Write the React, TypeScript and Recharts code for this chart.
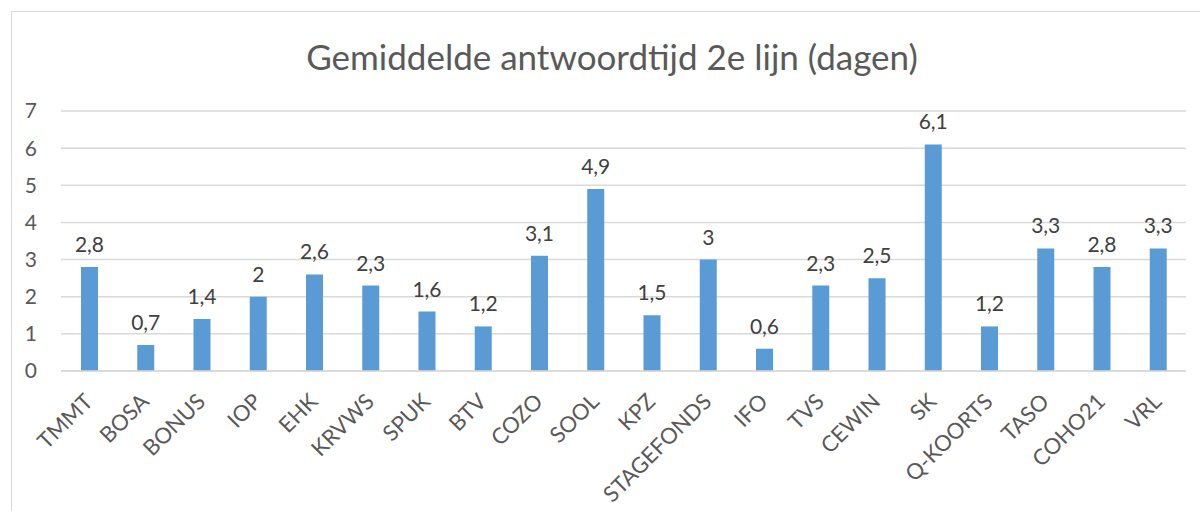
import { BarChart, Bar, XAxis, YAxis, CartesianGrid, LabelList } from 'recharts';

const categories = [
  'TMMT', 'BOSA', 'BONUS', 'IOP', 'EHK', 'KRVWS', 'SPUK', 'BTV', 'COZO', 'SOOL',
  'KPZ', 'STAGEFONDS', 'IFO', 'TVS', 'CEWIN', 'SK', 'Q-KOORTS', 'TASO', 'COHO21', 'VRL',
];
const days = [2.8, 0.7, 1.4, 2, 2.6, 2.3, 1.6, 1.2, 3.1, 4.9, 1.5, 3, 0.6, 2.3, 2.5, 6.1, 1.2, 3.3, 2.8, 3.3];
const yTicks = [0, 1, 2, 3, 4, 5, 6, 7];

const data = categories.map((name, i) => ({ name, value: days[i] }));

const FONT = 'Lato, "Open Sans", sans-serif';
const TEXT = '#595959';

// kommagetal zoals in de Nederlandse Excel-grafiek
const fmt = (v: number) => String(v).replace('.', ',');

function RotatedTick({ x, y, payload }: any) {
  return (
    <g transform={`translate(${x + 5},${y + 24})`}>
      <text
        textAnchor="end"
        transform="rotate(-45)"
        fill={TEXT}
        fontSize={22}
        fontFamily={FONT}
      >
        {payload.value}
      </text>
    </g>
  );
}

export default function App() {
  return (
    <div style={{ position: 'absolute', left: 0, top: 0, width: 1200, height: 511, background: '#fff' }}>
      <div
        style={{
          position: 'absolute',
          left: 11,
          top: 11,
          right: 0,
          bottom: 0,
          borderLeft: '1.5px solid #d9d9d9',
          borderTop: '1.5px solid #d9d9d9',
        }}
      />
      <div
        style={{
          position: 'absolute',
          left: 0,
          width: 1224,
          top: 35,
          textAlign: 'center',
          fontFamily: FONT,
          fontSize: 35,
          color: TEXT,
          lineHeight: '42px',
        }}
      >
        Gemiddelde antwoordtijd 2e lijn (dagen)
      </div>
      <div style={{ position: 'absolute', left: 0, top: 0 }}>
        <BarChart
          width={1200}
          height={511}
          data={data}
          margin={{ top: 111, right: 14, bottom: 0, left: 0 }}
        >
          <CartesianGrid vertical={false} stroke="#d9d9d9" strokeWidth={1.5} />
          <XAxis
            dataKey="name"
            interval={0}
            height={140}
            axisLine={{ stroke: '#d9d9d9', strokeWidth: 1.5 }}
            tickLine={false}
            tick={<RotatedTick />}
          />
          <YAxis
            width={61}
            domain={[0, 7]}
            ticks={yTicks}
            axisLine={false}
            tickLine={false}
            tickSize={0}
            tickMargin={24}
            tick={{ fill: TEXT, fontSize: 21, fontFamily: FONT }}
          />
          <Bar dataKey="value" fill="#5b9bd5" barSize={17} isAnimationActive={false}>
            <LabelList
              dataKey="value"
              position="top"
              offset={15}
              formatter={(v: any) => fmt(Number(v))}
              style={{ fill: '#404040', fontSize: 21, fontFamily: FONT }}
            />
          </Bar>
        </BarChart>
      </div>
    </div>
  );
}
